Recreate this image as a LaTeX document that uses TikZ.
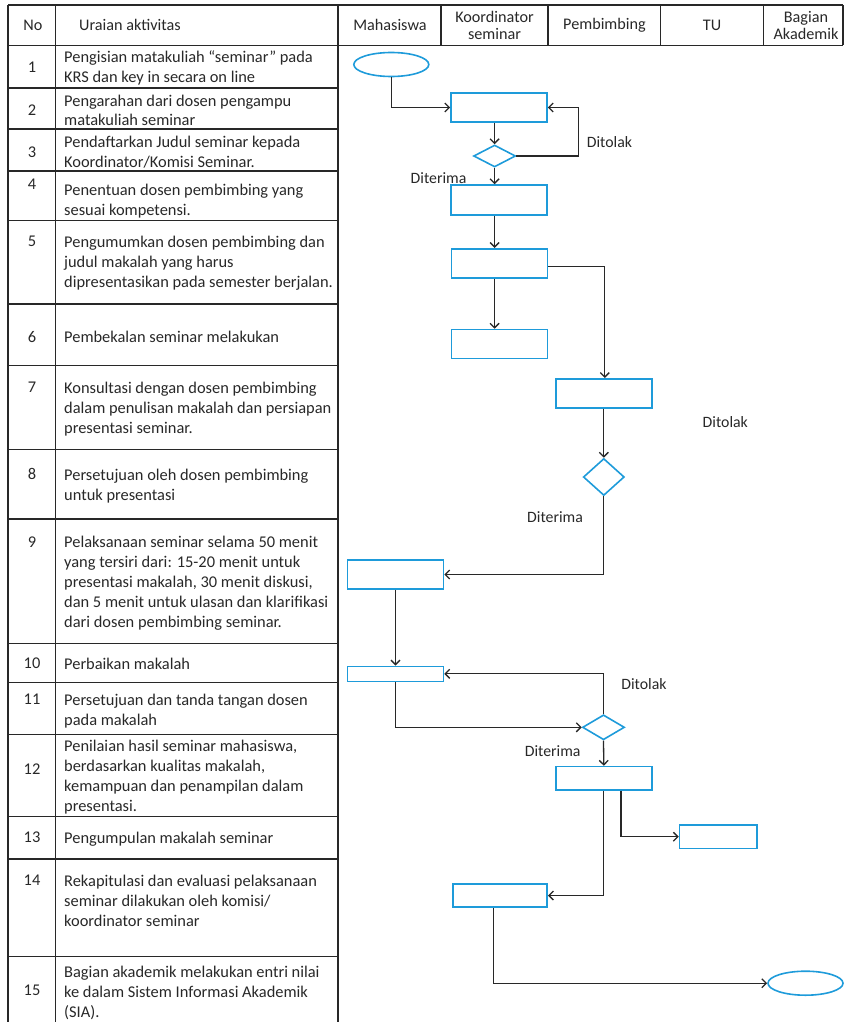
\documentclass[tikz,border=0pt]{standalone}
\usepackage{fontspec}
\setmainfont{Carlito}
\usetikzlibrary{shapes.geometric,arrows.meta,calc}
\definecolor{flowblue}{RGB}{30,155,218}
\definecolor{ink}{RGB}{40,40,40}
\tikzset{
  grid/.style={line width=1.5pt,draw=ink},
  proc/.style={draw=flowblue,line width=1.6pt,rectangle,inner sep=0pt},
  dec/.style={draw=flowblue,line width=1.6pt,diamond,inner sep=0pt},
  term/.style={draw=flowblue,line width=1.6pt,ellipse,inner sep=0pt,minimum width=75pt,minimum height=24pt},
  arr/.style={draw=ink,line width=1.3pt,-{Straight Barb[length=4.5pt,width=9pt,line width=1.3pt]}},
  desc/.style={anchor=base west,inner sep=0pt,align=left,font=\fontsize{16.4}{20}\selectfont,text=ink},
  num/.style={inner sep=0pt,font=\fontsize{16.4}{20}\selectfont,text=ink},
  head/.style={inner sep=0pt,align=center,font=\fontsize{16.2}{17}\selectfont,text=ink},
  lbl/.style={inner sep=0pt,font=\fontsize{15.8}{20}\selectfont,text=ink}
}
\begin{document}
\begin{tikzpicture}[x=1pt,y=-1pt]
\useasboundingbox (0,0) rectangle (844,1022);
% ---- table grid
\draw[grid] (8,5) -- (843,5);
\draw[grid] (8,45.5) -- (843,45.5);
\draw[grid] (8,5) -- (8,1022);
\draw[grid] (55.5,5) -- (55.5,1022);
\draw[grid] (338,5) -- (338,1022);
\foreach \xx in {441,548,660.5,763.5,843} \draw[grid] (\xx,5) -- (\xx,45.5);
\foreach \yy in {88,129,171,220.7,304,365.7,449.7,519,643.3,682.5,734.7,816.3,859.2,956.5}
  \draw[grid] (8,\yy) -- (338,\yy);
% ---- header
\node[head] (hNo) at (33,25) {No};
\node[head,anchor=west] (hUr) at (79,25) {Uraian aktivitas};
\node[head] (hMa) at (390,25) {Mahasiswa};
\node[head] (hKo) at (494.5,25) {Koordinator\\seminar};
\node[head] (hPe) at (604.5,25) {Pembimbing};
\node[head] (hTU) at (712,25) {TU};
\node[head] (hBa) at (806,25) {Bagian\\Akademik};
% ---- numbers
\node[num] (n1) at (32,67.7) {1};
\node[num] (n2) at (32,110) {2};
\node[num] (n3) at (32,152) {3};
\node[num] (n4) at (32,184) {4};
\node[num] (n5) at (32,241.7) {5};
\node[num] (n6) at (32,336.7) {6};
\node[num] (n7) at (32,387.3) {7};
\node[num] (n8) at (32,474) {8};
\node[num] (n9) at (32,541.7) {9};
\node[num] (n10) at (32,663.3) {10};
\node[num] (n11) at (32,699) {11};
\node[num] (n12) at (32,769.3) {12};
\node[num] (n13) at (32,837) {13};
\node[num] (n14) at (32,880) {14};
\node[num] (n15) at (32,990.7) {15};
% ---- descriptions (anchored at the baseline of the last line)
\node[desc] (t1) at (64,83) {Pengisian matakuliah “seminar” pada\\KRS dan key in secara on line};
\node[desc] (t2) at (64,126) {Pengarahan dari dosen pengampu\\matakuliah seminar};
\node[desc] (t3) at (64,167.5) {Pendaftarkan Judul seminar kepada\\Koordinator/Komisi Seminar.};
\node[desc] (t4) at (64,215) {Penentuan dosen pembimbing yang\\sesuai kompetensi.};
\node[desc] (t5) at (64,287.7) {Pengumumkan dosen pembimbing dan\\judul makalah yang harus\\dipresentasikan pada semester berjalan.};
\node[desc] (t6) at (64,342.7) {Pembekalan seminar melakukan};
\node[desc] (t7) at (64,433.3) {Konsultasi dengan dosen pembimbing\\dalam penulisan makalah dan persiapan\\presentasi seminar.};
\node[desc] (t8) at (64,500) {Persetujuan oleh dosen pembimbing\\untuk presentasi};
\node[desc] (t9) at (64,627.7) {Pelaksanaan seminar selama 50 menit\\yang tersiri dari: 15-20 menit untuk\\presentasi makalah, 30 menit diskusi,\\dan 5 menit untuk ulasan dan klarifikasi\\dari dosen pembimbing seminar.};
\node[desc] (t10) at (64,669.3) {Perbaikan makalah};
\node[desc] (t11) at (64,725) {Persetujuan dan tanda tangan dosen\\pada makalah};
\node[desc] (t12) at (64,811.3) {Penilaian hasil seminar mahasiswa,\\berdasarkan kualitas makalah,\\kemampuan dan penampilan dalam\\presentasi.};
\node[desc] (t13) at (64,843) {Pengumpulan makalah seminar};
\node[desc] (t14) at (64,926) {Rekapitulasi dan evaluasi pelaksanaan\\seminar dilakukan oleh komisi/\\koordinator seminar};
\node[desc] (t15) at (64,1017.3) {Bagian akademik melakukan entri nilai\\ke dalam Sistem Informasi Akademik\\(SIA).};
% ---- flow shapes
\node[term] (start) at (391.3,64.5) {};
\node[proc,minimum width=96pt,minimum height=29pt] (b2) at (499,107.5) {};
\node[dec,minimum width=42pt,minimum height=22pt] (d3) at (494.6,156) {};
\node[proc,minimum width=96pt,minimum height=30pt] (b4) at (499,200) {};
\node[proc,minimum width=96pt,minimum height=29pt] (b5) at (499.3,263.2) {};
\node[proc,minimum width=96pt,minimum height=29pt] (b6) at (499.3,344) {};
\node[proc,minimum width=96pt,minimum height=29pt] (b7) at (603.8,393.3) {};
\node[dec,minimum width=41pt,minimum height=37pt] (d8) at (603.8,477) {};
\node[proc,minimum width=96pt,minimum height=29pt] (b9) at (395.5,574.5) {};
\node[proc,minimum width=96pt,minimum height=15pt] (b10) at (395.5,673.8) {};
\node[dec,minimum width=42pt,minimum height=25pt] (d11) at (603.5,727.3) {};
\node[proc,minimum width=96pt,minimum height=23.5pt] (b12) at (603.8,778.3) {};
\node[proc,minimum width=77.5pt,minimum height=23.5pt] (b13) at (718.3,836.7) {};
\node[proc,minimum width=94pt,minimum height=23.5pt] (b14) at (500.2,895.5) {};
\node[term] (stop) at (805.5,983.2) {};
% ---- labels
\node[lbl] (l1) at (609.5,141.7) {Ditolak};
\node[lbl] (l2) at (438.5,178) {Diterima};
\node[lbl] (l3) at (725.3,421.7) {Ditolak};
\node[lbl] (l4) at (555,516.7) {Diterima};
\node[lbl] (l5) at (644,684.3) {Ditolak};
\node[lbl] (l6) at (552.7,751.3) {Diterima};
% ---- connectors
\draw[arr] (start.south) |- (b2.west);
\draw[arr] (d3.north |- b2.south) -- (d3.north);
\draw[arr] (d3.east) -- ++(62,0) |- (b2.east);
\draw[arr] (d3.south) -- (d3.south |- b4.north);
\draw[arr] (d3.south |- b4.south) -- (d3.south |- b5.north);
\draw[arr] (d3.south |- b5.south) -- (d3.south |- b6.north);
\draw[arr] ([yshift=-3pt]b5.east) -| ([xshift=1pt]b7.north);
\draw[arr] (b7.south) -- (d8.north);
\draw[arr] (d8.south) |- (b9.east);
\draw[arr] (b9.south) -- (b10.north);
\draw[arr] (d11.north) |- (b10.east);
\draw[arr] (b10.south) |- (d11.west);
\draw[arr] (d11.south) -- (b12.north);
\draw[arr] (b12.south) |- (b14.east);
\draw[arr] ([xshift=17.3pt]b12.south) |- (b13.west);
\draw[arr] ([xshift=-6.5pt]b14.south) |- (stop.west);
\end{tikzpicture}
\end{document}
